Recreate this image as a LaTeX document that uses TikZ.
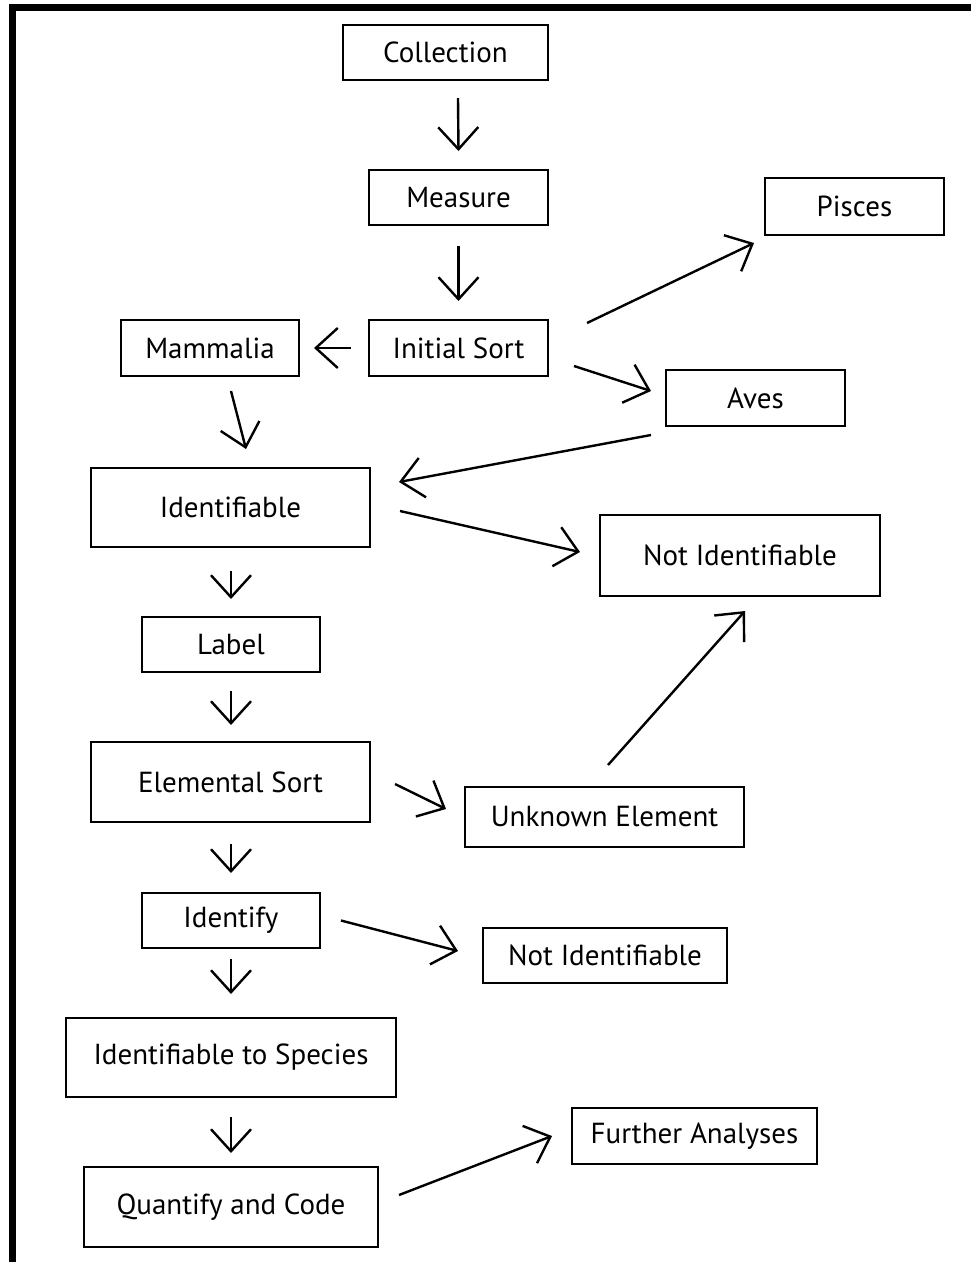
\documentclass[tikz,border=0pt]{standalone}
\usepackage{fontspec}
\setmainfont{PT Sans}
\usetikzlibrary{arrows.meta}
\begin{document}
\begin{tikzpicture}[x=1pt,y=-1pt,
  box/.style={draw,line width=2pt,inner sep=0pt,align=center,font=\fontsize{29}{33}\selectfont},
  arr/.style={line width=2.4pt,-{Straight Barb[length=22pt,width=40pt,line width=2.4pt]}}]
\useasboundingbox (0,0) rectangle (971,1262);
\fill (9,4) rectangle (971,11);
\fill (9,4) rectangle (16,1262);
\node[box,minimum width=205pt,minimum height=55pt] (col) at (445.5,52.5) {Collection};
\node[box,minimum width=179pt,minimum height=55pt] (mea) at (458.5,197.5) {Measure};
\node[box,minimum width=179pt,minimum height=56pt] (ini) at (458.5,348) {Initial Sort};
\node[box,minimum width=178pt,minimum height=56pt] (mam) at (210,348) {Mammalia};
\node[box,minimum width=179pt,minimum height=57pt] (pis) at (854.5,206.5) {Pisces};
\node[box,minimum width=179pt,minimum height=56pt] (ave) at (755.5,398) {Aves};
\node[box,minimum width=279pt,minimum height=79pt] (idn) at (230.5,507.5) {Identifiable};
\node[box,minimum width=280pt,minimum height=81pt] (ni1) at (740,555.5) {Not Identifiable};
\node[box,minimum width=178pt,minimum height=55pt] (lab) at (231,644.5) {Label};
\node[box,minimum width=279pt,minimum height=80pt] (el) at (230.5,782) {Elemental Sort};
\node[box,minimum width=279pt,minimum height=60pt] (unk) at (604.5,817) {Unknown Element};
\node[box,minimum width=178pt,minimum height=55pt] (ide) at (231,920.5) {Identify};
\node[box,minimum width=244pt,minimum height=55pt] (ni2) at (605,955.5) {Not Identifiable};
\node[box,minimum width=330pt,minimum height=79pt] (spe) at (231,1057.5) {Identifiable to Species};
\node[box,minimum width=245pt,minimum height=56pt] (fur) at (694.5,1136) {Further Analyses};
\node[box,minimum width=294pt,minimum height=80pt] (qua) at (231,1207) {Quantify and Code};
\draw[arr] ([shift={(12.5,17)}]col.south) -- ([shift={(0,-18)}]mea.north);
\draw[arr] ([shift={(0,20)}]mea.south) -- ([shift={(0,-18)}]ini.north);
\draw[arr] ([shift={(-17,0)}]ini.west) -- ([shift={(14,0)}]mam.east);
\draw[arr] ([shift={(38,-25)}]ini.east) -- ([shift={(-10,7)}]pis.south west);
\draw[arr] ([shift={(25,18)}]ini.east) -- ([shift={(-14,-7)}]ave.west);
\draw[arr] ([shift={(21,14)}]mam.south) -- ([shift={(15.5,-18)}]idn.north);
\draw[arr] ([shift={(-14,8)}]ave.south west) -- ([shift={(28,-25.5)}]idn.east);
\draw[arr] ([shift={(29,3.5)}]idn.east) -- ([shift={(-19,-3.5)}]ni1.west);
\draw[arr] ([shift={(0.5,23)}]idn.south) -- ([shift={(0,-17)}]lab.north);
\draw[arr] ([shift={(0,18)}]lab.south) -- ([shift={(0.5,-16)}]el.north);
\draw[arr] ([shift={(24,2)}]el.east) -- ([shift={(-18,-8)}]unk.west);
\draw[arr] ([shift={(3.5,-21)}]unk.north) -- ([shift={(5,14)}]ni1.south);
\draw[arr] ([shift={(0.5,21)}]el.south) -- ([shift={(0,-19)}]ide.north);
\draw[arr] ([shift={(20,0)}]ide.east) -- ([shift={(-24,-4.5)}]ni2.west);
\draw[arr] ([shift={(0,10)}]ide.south) -- ([shift={(0,-23)}]spe.north);
\draw[arr] ([shift={(0,19)}]spe.south) -- ([shift={(0,-13)}]qua.north);
\draw[arr] ([shift={(20,-12)}]qua.east) -- ([shift={(-19,-29)}]fur.south west);
\end{tikzpicture}
\end{document}
